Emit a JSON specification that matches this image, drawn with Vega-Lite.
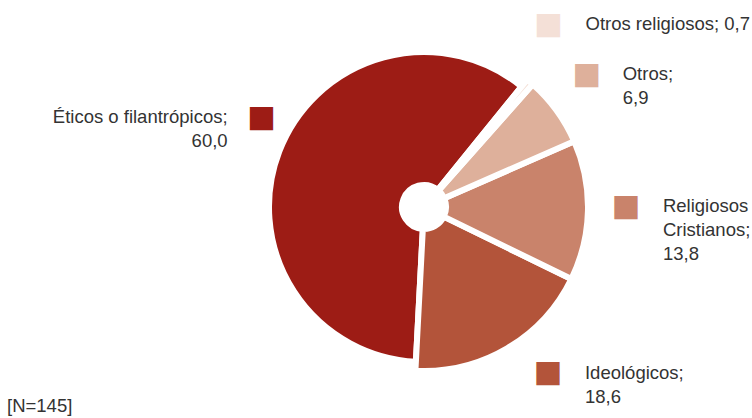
{
  "$schema": "https://vega.github.io/schema/vega-lite/v6.json",
  "autosize": {"type": "none"},
  "padding": {"left": 96, "right": 0, "top": 0, "bottom": 4},
  "width": 656,
  "height": 414,
  "background": "white",
  "config": {"view": {"stroke": null}, "text": {"font": "Liberation Sans"}},
  "title": {"text": "[N=145]", "orient": "bottom", "anchor": "start", "frame": "group", "offset": 0, "dx": -89, "dy": -17, "font": "Liberation Sans", "fontSize": 18.5, "fontWeight": "normal", "color": "#333333"},
  "data": {"values": [
    {"cat": "Éticos o filantrópicos", "valor": 60.0, "label": "Éticos o filantrópicos;\n60,0"},
    {"cat": "Ideológicos", "valor": 18.6, "label": "Ideológicos;\n18,6"},
    {"cat": "Religiosos Cristianos", "valor": 13.8, "label": "Religiosos\nCristianos;\n13,8"},
    {"cat": "Otros", "valor": 6.9, "label": "Otros;\n6,9"},
    {"cat": "Otros religiosos", "valor": 0.7, "label": "Otros religiosos; 0,7"}
  ]},
  "encoding": {
    "theta": {"field": "valor", "type": "quantitative", "stack": true, "scale": {"range": [0.6807, 6.9639]}},
    "order": {"field": "valor", "type": "quantitative", "sort": "ascending"}
  },
  "layer": [
    {
      "mark": {"type": "arc", "outerRadius": 155, "innerRadius": 22, "stroke": "white", "strokeWidth": 6},
      "encoding": {
        "color": {"field": "cat", "type": "nominal", "legend": null, "scale": {"domain": ["Éticos o filantrópicos", "Ideológicos", "Religiosos Cristianos", "Otros", "Otros religiosos"], "range": ["#9D1C15", "#B3543A", "#C9836B", "#DEB09B", "#F4E0D7"]}},
        "opacity": {"condition": {"test": "datum.cat === 'Éticos o filantrópicos'", "value": 1}, "value": 0}
      }
    },
    {
      "mark": {"type": "arc", "outerRadius": 164, "innerRadius": 22, "stroke": "white", "strokeWidth": 6},
      "encoding": {
        "color": {"field": "cat", "type": "nominal", "legend": null},
        "opacity": {"condition": {"test": "datum.cat === 'Éticos o filantrópicos'", "value": 0}, "value": 1}
      }
    },
    {
      "mark": {"type": "text", "radius": 205, "dx": -8, "dy": -25, "fontSize": 48, "align": "center", "baseline": "middle"},
      "encoding": {"color": {"field": "cat", "type": "nominal", "legend": null}, "text": {"condition": {"test": "datum.cat === 'Otros religiosos'", "value": "■"}, "value": ""}}
    },
    {
      "mark": {"type": "text", "radius": 205, "dx": -3, "dy": -10, "fontSize": 48, "align": "center", "baseline": "middle"},
      "encoding": {"color": {"field": "cat", "type": "nominal", "legend": null}, "text": {"condition": {"test": "datum.cat === 'Otros'", "value": "■"}, "value": ""}}
    },
    {
      "mark": {"type": "text", "radius": 205, "dx": -3, "dy": -3, "fontSize": 48, "align": "center", "baseline": "middle"},
      "encoding": {"color": {"field": "cat", "type": "nominal", "legend": null}, "text": {"condition": {"test": "datum.cat === 'Religiosos Cristianos'", "value": "■"}, "value": ""}}
    },
    {
      "mark": {"type": "text", "radius": 205, "dx": 20, "dy": -10, "fontSize": 48, "align": "center", "baseline": "middle"},
      "encoding": {"color": {"field": "cat", "type": "nominal", "legend": null}, "text": {"condition": {"test": "datum.cat === 'Ideológicos'", "value": "■"}, "value": ""}}
    },
    {
      "mark": {"type": "text", "radius": 205, "dx": 29, "dy": -15, "fontSize": 48, "align": "center", "baseline": "middle"},
      "encoding": {"color": {"field": "cat", "type": "nominal", "legend": null}, "text": {"condition": {"test": "datum.cat === 'Éticos o filantrópicos'", "value": "■"}, "value": ""}}
    },
    {
      "mark": {"type": "text", "radius": 205, "dx": 29, "dy": -36, "fontSize": 18.5, "lineHeight": 24, "lineBreak": "\n", "align": "left", "baseline": "top", "color": "#333333"},
      "encoding": {"detail": {"field": "cat"}, "text": {"condition": {"test": "datum.cat === 'Otros religiosos'", "field": "label"}, "value": ""}}
    },
    {
      "mark": {"type": "text", "radius": 205, "dx": 33, "dy": -21, "fontSize": 18.5, "lineHeight": 24, "lineBreak": "\n", "align": "left", "baseline": "top", "color": "#333333"},
      "encoding": {"detail": {"field": "cat"}, "text": {"condition": {"test": "datum.cat === 'Otros'", "field": "label"}, "value": ""}}
    },
    {
      "mark": {"type": "text", "radius": 205, "dx": 34, "dy": -14, "fontSize": 18.5, "lineHeight": 24, "lineBreak": "\n", "align": "left", "baseline": "top", "color": "#333333"},
      "encoding": {"detail": {"field": "cat"}, "text": {"condition": {"test": "datum.cat === 'Religiosos Cristianos'", "field": "label"}, "value": ""}}
    },
    {
      "mark": {"type": "text", "radius": 205, "dx": 57, "dy": -20, "fontSize": 18.5, "lineHeight": 24, "lineBreak": "\n", "align": "left", "baseline": "top", "color": "#333333"},
      "encoding": {"detail": {"field": "cat"}, "text": {"condition": {"test": "datum.cat === 'Ideológicos'", "field": "label"}, "value": ""}}
    },
    {
      "mark": {"type": "text", "radius": 205, "dx": -5, "dy": -26, "fontSize": 18.5, "lineHeight": 24, "lineBreak": "\n", "align": "right", "baseline": "top", "color": "#333333"},
      "encoding": {"detail": {"field": "cat"}, "text": {"condition": {"test": "datum.cat === 'Éticos o filantrópicos'", "field": "label"}, "value": ""}}
    }
  ]
}
